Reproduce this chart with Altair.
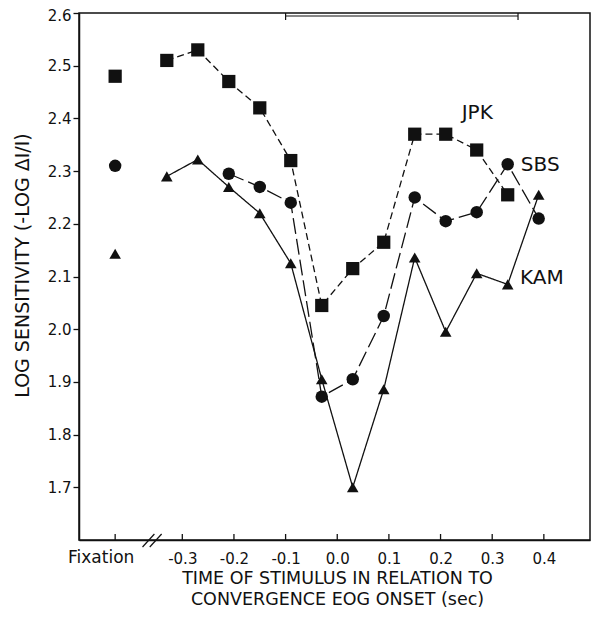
import altair as alt
import pandas as pd

# ---- data ----
TIMES = [-0.33, -0.27, -0.21, -0.15, -0.09, -0.03, 0.03, 0.09, 0.15, 0.21, 0.27, 0.33, 0.39]
JPK = [2.51, 2.53, 2.47, 2.42, 2.32, 2.045, 2.115, 2.165, 2.37, 2.37, 2.34, 2.255, None]
SBS = [None, None, 2.295, 2.27, 2.24, 1.872, 1.905, 2.025, 2.25, 2.205, 2.222, 2.313, 2.21]
KAM = [2.29, 2.322, 2.27, 2.22, 2.125, 1.905, 1.70, 1.886, 2.136, 1.995, 2.106, 2.085, 2.255]
FIXATION = {"JPK": 2.48, "SBS": 2.31, "KAM": 2.143}
SERIES = ["JPK", "SBS", "KAM"]
X_TICKS = [-0.3, -0.2, -0.1, 0.0, 0.1, 0.2, 0.3, 0.4]
Y_TICKS = [1.7, 1.8, 1.9, 2.0, 2.1, 2.2, 2.3, 2.4, 2.5, 2.6]
FIX_LABEL = "Fixation"
# annotation anchors (data coordinates)
FIX_X = -0.43
LABEL_POS = {"JPK": (0.271, 2.41), "SBS": (0.393, 2.311), "KAM": (0.396, 2.097)}
STIM_BAR = (-0.10, 0.35)
BREAK_MARKS = [(-0.377, -0.354), (-0.363, -0.340)]

FONT = "DejaVu Sans"
INK = "#111111"
W, H = 511, 527
PX_PER_UNIT = 516.5
X_MIN = -0.5
X_MAX = X_MIN + W / PX_PER_UNIT

values = {"JPK": JPK, "SBS": SBS, "KAM": KAM}

line_rows = []
for s in SERIES:
    for t, v in zip(TIMES, values[s]):
        if v is not None:
            line_rows.append({"x": t, "y": v, "series": s})
lines_df = pd.DataFrame(line_rows)
points_df = pd.concat(
    [lines_df, pd.DataFrame([{"x": FIX_X, "y": FIXATION[s], "series": s} for s in SERIES])],
    ignore_index=True,
)

xscale = alt.Scale(domain=[X_MIN, X_MAX], nice=False, zero=False)
yscale = alt.Scale(domain=[1.6, 2.6], nice=False, zero=False)

x_axis = alt.Axis(
    values=X_TICKS,
    ticks=False,
    grid=False,
    domainColor=INK,
    domainWidth=1.5,
    labelFont=FONT,
    labelFontSize=15,
    labelColor=INK,
    labelPadding=11,
    labelExpr="datum.value < 0 ? '-' + format(-datum.value, '.1f') : format(datum.value, '.1f')",
    title=["TIME OF STIMULUS IN RELATION TO", "CONVERGENCE EOG ONSET (sec)"],
    titleFont=FONT,
    titleFontSize=17.5,
    titleFontWeight="normal",
    titleColor=INK,
    titleLineHeight=21,
    titleAlign="center",
    titleBaseline="top",
    titleX=258,
    titleY=29,
)
y_axis = alt.Axis(
    values=Y_TICKS,
    format=".1f",
    grid=False,
    tickSize=6,
    tickColor=INK,
    tickWidth=1.3,
    domainColor=INK,
    domainWidth=1.5,
    labelFont=FONT,
    labelFontSize=15,
    labelColor=INK,
    labelPadding=2,
    labelOffset={"condition": {"test": "datum.value > 2.55", "value": 2.5}, "value": 0},
    title="LOG SENSITIVITY (-LOG ΔI/I)",
    titleFont=FONT,
    titleFontSize=19,
    titleFontWeight="normal",
    titleColor=INK,
    titleAngle=270,
    titleAlign="center",
    titleBaseline="middle",
    titleX=-57,
    titleY=252,
)


def X(field="x"):
    return alt.X(f"{field}:Q", scale=xscale, axis=x_axis)


def Y(field="y"):
    return alt.Y(f"{field}:Q", scale=yscale, axis=y_axis)


dashes = {"JPK": [7, 4], "SBS": [16, 5], "KAM": [1, 0]}
layers = []
for s in SERIES:
    layers.append(
        alt.Chart(lines_df[lines_df.series == s])
        .mark_line(color=INK, strokeWidth=1.3, strokeDash=dashes[s])
        .encode(x=X(), y=Y())
    )

layers.append(
    alt.Chart(points_df)
    .mark_point(filled=True, color=INK, opacity=1, strokeWidth=0)
    .encode(
        x=X(),
        y=Y(),
        shape=alt.Shape(
            "series:N",
            scale=alt.Scale(domain=SERIES, range=["square", "circle", "triangle-up"]),
            legend=None,
        ),
        size=alt.Size(
            "series:N",
            scale=alt.Scale(domain=SERIES, range=[175, 135, 150]),
            legend=None,
        ),
    )
)

# series name labels
lab_df = pd.DataFrame([{"x": LABEL_POS[s][0], "y": LABEL_POS[s][1], "name": s} for s in SERIES])
layers.append(
    alt.Chart(lab_df)
    .mark_text(font=FONT, fontSize=20, color=INK, align="center", baseline="middle")
    .encode(x=X(), y=Y(), text="name:N")
)

# inward x ticks
tick_df = pd.DataFrame({"x": [FIX_X] + X_TICKS, "y": [1.6] * (len(X_TICKS) + 1)})
layers.append(
    alt.Chart(tick_df)
    .mark_rule(color=INK, strokeWidth=1.3)
    .encode(x=X(), y=Y(), y2=alt.value(H - 6))
)

# Fixation label
fix_df = pd.DataFrame({"x": [FIX_X], "label": [FIX_LABEL]})
layers.append(
    alt.Chart(fix_df)
    .mark_text(font=FONT, fontSize=17, color=INK, align="center", baseline="top", dx=-14)
    .encode(x=X(), y=alt.value(H + 10), text="label:N")
)

# axis break marks
brk_df = pd.DataFrame({"x": [b[0] for b in BREAK_MARKS], "x2": [b[1] for b in BREAK_MARKS]})
layers.append(
    alt.Chart(brk_df)
    .mark_rule(color=INK, strokeWidth=1.2)
    .encode(x=X(), x2="x2:Q", y=alt.value(H + 7), y2=alt.value(H - 6))
)

# stimulus bar at top
bar_df = pd.DataFrame({"x": [STIM_BAR[0]], "x2": [STIM_BAR[1]]})
layers.append(
    alt.Chart(bar_df)
    .mark_rule(color=INK, strokeWidth=1.2)
    .encode(x=X(), x2="x2:Q", y=alt.value(3))
)
end_df = pd.DataFrame({"x": list(STIM_BAR)})
layers.append(
    alt.Chart(end_df)
    .mark_rule(color=INK, strokeWidth=1.2)
    .encode(x=X(), y=alt.value(0), y2=alt.value(7))
)

chart = (
    alt.layer(*layers)
    .properties(
        width=W,
        height=H,
        autosize=alt.AutoSizeParams(type="none"),
        padding={"left": 71, "top": 5, "right": 1, "bottom": 68},
        background="white",
    )
    .configure_view(stroke=INK, strokeWidth=1.5)
)

chart.save("out.html", embed_options={"renderer": "svg", "actions": False})
